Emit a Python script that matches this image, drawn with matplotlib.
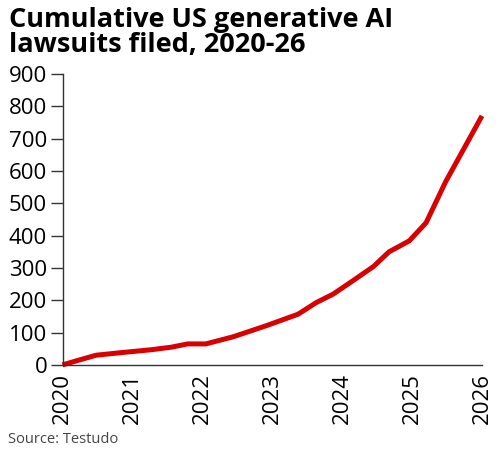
import matplotlib
matplotlib.use("Agg")
import matplotlib.pyplot as plt

# decimal year of each filing count reading, and the cumulative count
years = [2020.0, 2020.22, 2020.48, 2020.84, 2021.27, 2021.56, 2021.79, 2022.05,
         2022.44, 2022.91, 2023.37, 2023.63, 2023.87, 2024.15, 2024.45, 2024.67,
         2024.96, 2025.2, 2025.48, 2026.0]
lawsuits = [0, 14, 30, 38, 47, 55, 65, 65,
            87, 121, 157, 193, 219, 260, 305, 350,
            384, 440, 567, 771]

year_ticks = [2020, 2021, 2022, 2023, 2024, 2025, 2026]
value_ticks = [0, 100, 200, 300, 400, 500, 600, 700, 800, 900]

title = "Cumulative US generative AI\nlawsuits filed, 2020-26"
source = "Source: Testudo"

plt.rcParams['font.family'] = ['Open Sans', 'DejaVu Sans']

fig = plt.figure(figsize=(5, 4.55), dpi=100)
ax = fig.add_axes([0.125, 0.198, 0.839, 0.639])

ax.plot(years, lawsuits, color='#d80000', linewidth=3.6, solid_capstyle='butt',
        solid_joinstyle='miter', clip_on=False)

ax.set_xlim(2020, 2026)
ax.set_ylim(0, 900)
ax.set_xticks(year_ticks)
ax.set_xticklabels([str(y) for y in year_ticks], rotation=90)
ax.set_yticks(value_ticks)

for side in ['top', 'right']:
    ax.spines[side].set_visible(False)
for side in ['left', 'bottom']:
    ax.spines[side].set_color('#333333')
    ax.spines[side].set_linewidth(1.0)

ax.tick_params(axis='y', length=8.5, width=1.0, color='#333333', pad=2.5,
               labelsize=16, labelcolor='black')
ax.tick_params(axis='x', length=0, pad=6, labelsize=16, labelcolor='black')

fig.text(0.018, 0.985, title, fontsize=19.5, fontweight='bold', va='top',
         ha='left', linespacing=0.97)
fig.text(0.016, 0.018, source, fontsize=10.5, color='#444444', ha='left',
         va='bottom')

fig.savefig('out.png', dpi=100)
